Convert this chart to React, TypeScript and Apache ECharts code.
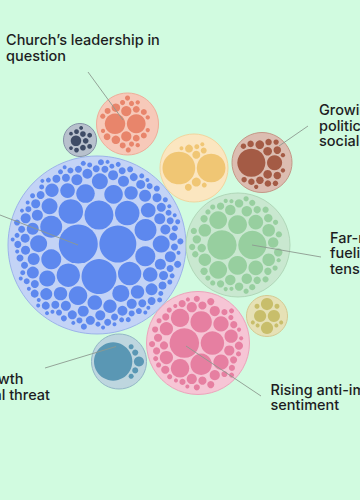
import React, { useEffect, useRef } from "react";
import * as echarts from "echarts";

// ---------------- data ----------------
// top-level groups (centre x, centre y, radius) in chart units (1 unit = 1px)
const groupX = [97, 127.5, 80, 194, 262, 238, 198, 267, 119];
const groupY = [245, 124, 140, 168, 162.5, 245, 343, 316, 361.5];
const groupR = [89, 31, 16.5, 34, 30, 52, 51.5, 20.5, 27.5];

// child circle sizes per group as [relative radius, count]
const blueSizes = [[19.5, 1], [18.5, 1], [17.5, 1], [14.5, 1], [12.3, 2], [11.7, 2], [11, 2], [10, 2], [9.3, 3], [8.5, 3], [8, 3], [7.3, 4], [6.7, 5], [6, 6], [5.5, 7], [5, 8], [4.5, 9], [4, 12], [3.5, 14], [3, 17], [2.5, 20], [2, 22]];
const salmonSizes = [[12, 1], [11, 1], [6, 2], [5, 2], [4, 3], [3.5, 4], [3, 6], [2.5, 5]];
const slateSizes = [[5.5, 1], [3, 3], [2.5, 4], [2, 3]];
const yellowSizes = [[16.5, 1], [14.5, 1], [4.5, 1], [4, 2], [3.5, 1], [3, 1], [2.5, 2], [2, 2]];
const brownSizes = [[13, 1], [7, 1], [4, 3], [3.5, 3], [3, 4], [2.5, 4], [2, 3]];
const greenSizes = [[14, 1], [13.5, 1], [9, 2], [8.5, 2], [7, 2], [6, 4], [5, 5], [4, 6], [3.5, 7], [3, 8], [2.5, 8], [2, 5]];
const pinkSizes = [[14.5, 1], [11.5, 1], [10.5, 2], [9, 2], [7.5, 2], [6.5, 3], [5, 5], [4, 6], [3.5, 7], [3, 8], [2.5, 9], [2, 6]];
const oliveSizes = [[6, 4], [2.5, 2], [2, 4]];
const tealSizes = [[19, 1], [5, 1], [3, 2], [2.5, 2]];
const childSizes = [blueSizes, salmonSizes, slateSizes, yellowSizes, brownSizes, greenSizes, pinkSizes, oliveSizes, tealSizes];

// labels
const labelText = [
  "Church\u2019s leadership in\nquestion",
  "Growing\npolitical and\nsocial divisions",
  "Far-right activism\nfueling social\ntensions",
  "Rising anti-immigrant\nsentiment",
  "Muslim population growth",
  "seen as a cultural threat",
];
const labelX = [6, 319, 330, 270.5, 23.5, 50];
const labelBaseline = [45, 115, 242.7, 394.5, 384, 400];
const labelAlign = ["left", "left", "left", "left", "right", "right"];

// leader lines [x1, y1, x2, y2]
const leaderLines = [
  [88, 72, 123, 120],
  [308, 126, 279, 146],
  [321, 257, 252, 245],
  [186, 346, 261, 396],
  [45, 368, 116, 346.5],
  [0, 215, 78, 245],
];

// ---------------- styles ----------------
const childColors = ["#5d88ee", "#e8856b", "#3e4c66", "#f0c674", "#a45b45", "#97cf9f", "#e67fa1", "#c8be6b", "#5a97b4"];
const parentFills = ["#c3d3f6", "#f7c9b9", "#b8c1cd", "#fbe6c0", "#dcbdb1", "#c9e8d0", "#f6c5d5", "#e6e1b6", "#bed6df"];
const parentStrokes = ["#9cb3ea", "#eeae9a", "#8693a8", "#f2d59e", "#c49787", "#b0d7b8", "#eda3bb", "#d4ca92", "#93b6c6"];
const BG = "#d1fbe0";
const FONT = "Inter, 'Noto Sans', sans-serif";

// ---------------- circle packing (front-chain, as in d3-hierarchy) ----------------
function place(b: any, a: any, c: any) {
  const dx = b.x - a.x, dy = b.y - a.y;
  const d2 = dx * dx + dy * dy;
  if (d2) {
    let a2 = a.r + c.r; a2 *= a2;
    let b2 = b.r + c.r; b2 *= b2;
    if (a2 > b2) {
      const x = (d2 + b2 - a2) / (2 * d2);
      const y = Math.sqrt(Math.max(0, b2 / d2 - x * x));
      c.x = b.x - x * dx - y * dy;
      c.y = b.y - x * dy + y * dx;
    } else {
      const x = (d2 + a2 - b2) / (2 * d2);
      const y = Math.sqrt(Math.max(0, a2 / d2 - x * x));
      c.x = a.x + x * dx - y * dy;
      c.y = a.y + x * dy + y * dx;
    }
  } else {
    c.x = a.x + c.r;
    c.y = a.y;
  }
}
function intersects(a: any, b: any) {
  const dr = a.r + b.r - 1e-6, dx = b.x - a.x, dy = b.y - a.y;
  return dr > 0 && dr * dr > dx * dx + dy * dy;
}
function score(node: any) {
  const a = node._, b = node.next._;
  const ab = a.r + b.r;
  const dx = (a.x * b.r + b.x * a.r) / ab;
  const dy = (a.y * b.r + b.y * a.r) / ab;
  return dx * dx + dy * dy;
}
function packSiblings(circles: any[]) {
  const n = circles.length;
  if (!n) return;
  const a0 = circles[0]; a0.x = 0; a0.y = 0;
  if (n < 2) return;
  const b0 = circles[1]; a0.x = -b0.r; b0.x = a0.r; b0.y = 0;
  if (n < 3) return;
  place(b0, a0, circles[2]);
  let A: any = { _: a0, next: null, previous: null };
  let B: any = { _: b0, next: null, previous: null };
  const C0: any = { _: circles[2], next: null, previous: null };
  A.next = C0.previous = B;
  B.next = A.previous = C0;
  C0.next = B.previous = A;
  pack: for (let i = 3; i < n; ++i) {
    const ci = circles[i];
    place(A._, B._, ci);
    const C: any = { _: ci, next: null, previous: null };
    let j = B.next, k = A.previous, sj = B._.r, sk = A._.r;
    do {
      if (sj <= sk) {
        if (intersects(j._, C._)) { B = j; A.next = B; B.previous = A; --i; continue pack; }
        sj += j._.r; j = j.next;
      } else {
        if (intersects(k._, C._)) { A = k; A.next = B; B.previous = A; --i; continue pack; }
        sk += k._.r; k = k.previous;
      }
    } while (j !== k.next);
    C.previous = A; C.next = B; A.next = B.previous = B = C;
    let aa = score(A);
    let cc = C;
    while ((cc = cc.next) !== B) {
      const ca = score(cc);
      if (ca < aa) { A = cc; aa = ca; }
    }
    B = A.next;
  }
}

// smallest enclosing circle (Welzl-style, as in d3 enclose)
function enclosesNot(a: any, b: any) {
  const dr = a.r - b.r, dx = b.x - a.x, dy = b.y - a.y;
  return dr < 0 || dr * dr < dx * dx + dy * dy;
}
function enclosesWeak(a: any, b: any) {
  const dr = a.r - b.r + Math.max(a.r, b.r, 1) * 1e-9, dx = b.x - a.x, dy = b.y - a.y;
  return dr > 0 && dr * dr > dx * dx + dy * dy;
}
function enclosesWeakAll(a: any, B: any[]) {
  for (let i = 0; i < B.length; ++i) if (!enclosesWeak(a, B[i])) return false;
  return true;
}
function basis2(a: any, b: any) {
  const x21 = b.x - a.x, y21 = b.y - a.y, r21 = b.r - a.r;
  const l = Math.sqrt(x21 * x21 + y21 * y21);
  return { x: (a.x + b.x + (x21 / l) * r21) / 2, y: (a.y + b.y + (y21 / l) * r21) / 2, r: (l + a.r + b.r) / 2 };
}
function basis3(a: any, b: any, c: any) {
  const x1 = a.x, y1 = a.y, r1 = a.r, x2 = b.x, y2 = b.y, r2 = b.r, x3 = c.x, y3 = c.y, r3 = c.r;
  const a2 = x1 - x2, a3 = x1 - x3, b2 = y1 - y2, b3 = y1 - y3, c2 = r2 - r1, c3 = r3 - r1;
  const d1 = x1 * x1 + y1 * y1 - r1 * r1;
  const d2 = d1 - x2 * x2 - y2 * y2 + r2 * r2;
  const d3 = d1 - x3 * x3 - y3 * y3 + r3 * r3;
  const ab = a3 * b2 - a2 * b3;
  const xa = (b2 * d3 - b3 * d2) / (ab * 2) - x1;
  const xb = (b3 * c2 - b2 * c3) / ab;
  const ya = (a3 * d2 - a2 * d3) / (ab * 2) - y1;
  const yb = (a2 * c3 - a3 * c2) / ab;
  const AA = xb * xb + yb * yb - 1;
  const BB = 2 * (r1 + xa * xb + ya * yb);
  const CC = xa * xa + ya * ya - r1 * r1;
  const r = -(Math.abs(AA) > 1e-6 ? (BB + Math.sqrt(BB * BB - 4 * AA * CC)) / (2 * AA) : CC / BB);
  return { x: x1 + xa + xb * r, y: y1 + ya + yb * r, r };
}
function encloseBasis(B: any[]) {
  if (B.length === 1) return { x: B[0].x, y: B[0].y, r: B[0].r };
  if (B.length === 2) return basis2(B[0], B[1]);
  return basis3(B[0], B[1], B[2]);
}
function extendBasis(B: any[], p: any) {
  if (enclosesWeakAll(p, B)) return [p];
  for (let i = 0; i < B.length; ++i) {
    if (enclosesNot(p, B[i]) && enclosesWeakAll(basis2(B[i], p), B)) return [B[i], p];
  }
  for (let i = 0; i < B.length - 1; ++i) {
    for (let j = i + 1; j < B.length; ++j) {
      if (enclosesNot(basis2(B[i], B[j]), p) && enclosesNot(basis2(B[i], p), B[j]) &&
        enclosesNot(basis2(B[j], p), B[i]) && enclosesWeakAll(basis3(B[i], B[j], p), B)) {
        return [B[i], B[j], p];
      }
    }
  }
  throw new Error("basis");
}
function encloseApprox(circles: any[]) {
  let x = 0, y = 0;
  circles.forEach((c) => { x += c.x; y += c.y; });
  x /= circles.length; y /= circles.length;
  for (let it = 0; it < 2000; it++) {
    let best = -1, bi = 0;
    circles.forEach((c, i) => { const d = Math.hypot(c.x - x, c.y - y) + c.r; if (d > best) { best = d; bi = i; } });
    const f = circles[bi];
    const d = Math.hypot(f.x - x, f.y - y) || 1;
    const px = f.x + ((f.x - x) / d) * f.r, py = f.y + ((f.y - y) / d) * f.r;
    const s = 1 / (it + 2);
    x += (px - x) * s; y += (py - y) * s;
  }
  let r = 0;
  circles.forEach((c) => { r = Math.max(r, Math.hypot(c.x - x, c.y - y) + c.r); });
  return { x, y, r };
}
function enclose(circles: any[]) {
  try {
    const list = circles.slice();
    let i = 0, B: any[] = [], e: any = null;
    let guard = 0;
    while (i < list.length) {
      if (++guard > 200000) throw new Error("loop");
      const p = list[i];
      if (e && enclosesWeak(e, p)) ++i;
      else { B = extendBasis(B, p); e = encloseBasis(B); i = 0; }
    }
    if (!e || !isFinite(e.r)) throw new Error("bad");
    return e;
  } catch (err) {
    return encloseApprox(circles);
  }
}

function expand(hist: number[][]) {
  const out: number[] = [];
  hist.forEach(([r, n]) => { for (let i = 0; i < n; i++) out.push(r); });
  out.sort((a, b) => b - a);
  return out;
}

function layoutGroup(hist: number[][], R: number, padPx: number, insetPx: number) {
  const list = expand(hist);
  let pad = 0, k = 1, circles: any[] = [], e: any = { x: 0, y: 0, r: 1 };
  for (let pass = 0; pass < 4; pass++) {
    circles = list.map((r) => ({ x: 0, y: 0, r: r + pad / 2 }));
    packSiblings(circles);
    e = enclose(circles);
    k = (R - insetPx) / (e.r - pad / 2);
    pad = padPx / k;
  }
  return circles.map((c, i) => [(c.x - e.x) * k, (c.y - e.y) * k, list[i] * k]);
}

export default function App() {
  const ref = useRef<HTMLDivElement>(null);
  useEffect(() => {
    if (!ref.current) return;
    const chart = echarts.init(ref.current, null, { renderer: "svg" });

    const parentData = groupX.map((x, i) => [x, groupY[i], groupR[i], i]);
    const childData: number[][] = [];
    childSizes.forEach((hist, g) => {
      layoutGroup(hist, groupR[g], 1.6, 2.5).forEach(([dx, dy, r]) => {
        childData.push([groupX[g] + dx, groupY[g] + dy, r, g]);
      });
    });
    const labelData = labelText.map((_, i) => [labelX[i], labelBaseline[i], i]);

    const circleItem = (fills: string[], strokes: string[] | null) => (params: any, api: any) => {
      const c = api.coord([api.value(0), api.value(1)]);
      const r = api.size([api.value(2), 0])[0];
      const g = api.value(3);
      return {
        type: "circle",
        shape: { cx: c[0], cy: c[1], r },
        style: strokes ? { fill: fills[g], stroke: strokes[g], lineWidth: 1 } : { fill: fills[g] },
      };
    };

    chart.setOption({
      animation: false,
      backgroundColor: BG,
      grid: { left: 0, right: 0, top: 0, bottom: 0 },
      xAxis: { type: "value", min: 0, max: 360, show: false },
      yAxis: { type: "value", min: 0, max: 500, inverse: true, show: false },
      series: [
        {
          type: "custom",
          name: "groups",
          renderItem: circleItem(parentFills, parentStrokes),
          data: parentData,
          silent: true,
        },
        {
          type: "custom",
          name: "items",
          renderItem: circleItem(childColors, null),
          data: childData,
          silent: true,
        },
        {
          type: "custom",
          name: "leaders",
          renderItem: (params: any, api: any) => {
            const p1 = api.coord([api.value(0), api.value(1)]);
            const p2 = api.coord([api.value(2), api.value(3)]);
            return {
              type: "line",
              shape: { x1: p1[0], y1: p1[1], x2: p2[0], y2: p2[1] },
              style: { stroke: "#8c9a90", lineWidth: 0.9 },
            };
          },
          data: leaderLines,
          silent: true,
        },
        {
          type: "custom",
          name: "labels",
          renderItem: (params: any, api: any) => {
            const i = api.value(2);
            const p = api.coord([api.value(0), api.value(1)]);
            const fs = 14.5, lh = 15.5;
            return {
              type: "text",
              style: {
                text: labelText[i],
                x: p[0],
                y: p[1] - 0.36 * fs - lh / 2,
                fill: "#1d1d1f",
                fontSize: fs,
                fontFamily: FONT,
                fontWeight: 500,
                lineHeight: lh,
                align: labelAlign[i],
                verticalAlign: "top",
              },
            };
          },
          data: labelData,
          silent: true,
        },
      ],
    });
    return () => chart.dispose();
  }, []);
  return <div ref={ref} style={{ position: "fixed", left: 0, top: 0, width: 360, height: 500 }} />;
}
